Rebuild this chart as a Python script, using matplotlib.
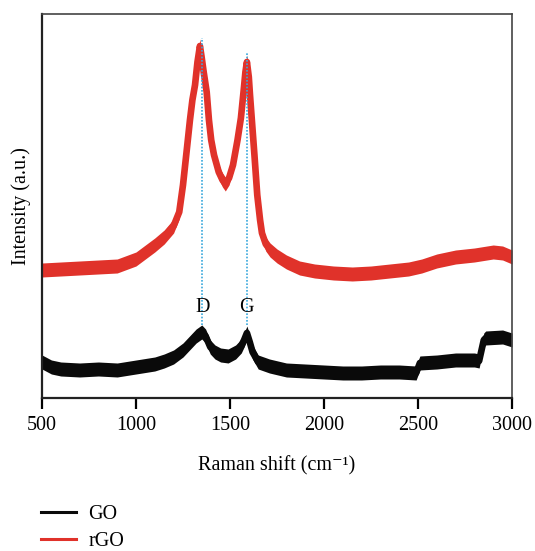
import matplotlib
matplotlib.use("Agg")
import matplotlib.pyplot as plt
from matplotlib.lines import Line2D
import numpy as np

plt.rcParams['font.family'] = ['Liberation Serif', 'DejaVu Serif']

# Raman shift (cm^-1) and intensity (a.u.)
rgo_shift = [500, 600, 700, 800, 900, 1000, 1050, 1100, 1150, 1200, 1230, 1250, 1270,
             1287, 1300, 1314, 1327, 1340, 1349, 1360, 1376, 1388, 1400, 1415, 1440,
             1460, 1475, 1495, 1516, 1540, 1558, 1574, 1582, 1590, 1600, 1606, 1617,
             1630, 1645, 1660, 1670, 1690, 1713, 1750, 1800, 1870, 1950, 2050, 2150,
             2250, 2350, 2450, 2520, 2600, 2700, 2800, 2900, 2950, 3000]
rgo_int = [128, 129, 130, 131, 132, 139, 146, 153, 161, 172, 186, 213, 248,
           278, 298, 313, 336, 352, 341, 326, 306, 278, 258, 243, 226,
           218, 214, 220, 233, 258, 280, 310, 326, 336, 321, 304, 276,
           243, 203, 178, 165, 154, 148, 142, 136, 130, 127, 125, 124,
           125, 127, 129, 132, 137, 141, 143, 146, 145, 141]

go_shift = [500, 550, 600, 700, 800, 900, 1000, 1100, 1150, 1200, 1250, 1290, 1320,
            1350, 1370, 1395, 1420, 1450, 1490, 1530, 1560, 1575, 1590, 1605, 1620,
            1650, 1710, 1800, 1900, 2000, 2100, 2200, 2300, 2400, 2490, 2500, 2510,
            2600, 2700, 2800, 2825, 2850, 2860, 2950, 3000]
go_int = [36, 31, 29, 28, 29, 28, 31, 34, 37, 41, 48, 56, 62,
          66, 62, 51, 46, 43, 42, 46, 52, 58, 65, 56, 46,
          36, 32, 28, 27, 26, 25, 25, 26, 26, 25, 30, 35,
          36, 38, 38, 37, 58, 60, 61, 58]

series_labels = ['GO', 'rGO']
peak_labels = ['D', 'G']
peak_pos = [1353, 1589]
peak_tops = [360, 345]
peak_bottom = 73
xticks = [500, 1000, 1500, 2000, 2500, 3000]

RED = '#e0322a'
BLACK = '#0a0a0a'
BLUE = '#3aa8dc'
BAND = 7

W, H = 535, 551
fig = plt.figure(figsize=(W / 100, H / 100), dpi=100)
ax = fig.add_axes([42 / W, 1 - 398 / H, (512 - 42) / W, (398 - 14) / H])

for xs, ys, col in [(go_shift, go_int, BLACK), (rgo_shift, rgo_int, RED)]:
    xs = np.asarray(xs, float)
    ys = np.asarray(ys, float)
    ax.fill_between(xs, ys - BAND, ys + BAND, color=col, lw=0, zorder=2)
    ax.plot(xs, ys, color=col, lw=4.8, solid_joinstyle='round', zorder=2)

for p, top, lab in zip(peak_pos, peak_tops, peak_labels):
    ax.plot([p, p], [peak_bottom, top], color=BLUE, lw=1.2,
            linestyle=(0, (1, 1)), zorder=4)
    ax.text(p, 91, lab, ha='center', va='center', fontsize=14.5, color='black', zorder=5)

ax.set_xlim(500, 3000)
ax.set_ylim(0, 384)
ax.set_xticks(xticks)
ax.set_yticks([])
ax.tick_params(axis='x', direction='out', length=8, width=1.6, pad=5, labelsize=14.5)
for s in ['left', 'bottom']:
    ax.spines[s].set_linewidth(1.6)
    ax.spines[s].set_color('#222222')
for s in ['top', 'right']:
    ax.spines[s].set_linewidth(1.2)
    ax.spines[s].set_color('#444444')

ax.set_xlabel('Raman shift (cm\u207b\u00b9)', fontsize=14.5, labelpad=15)
ax.set_ylabel('Intensity (a.u.)', fontsize=14.5, labelpad=8)

handles = [Line2D([], [], color=BLACK, lw=2.2), Line2D([], [], color=RED, lw=2.2)]
fig.legend(handles, series_labels, loc='upper left',
           bbox_to_anchor=(41 / W, 1 - 505 / H), frameon=False, fontsize=14.5,
           handlelength=1.75, handletextpad=0.6, labelspacing=0.38,
           borderpad=0, borderaxespad=0)

fig.savefig('out.png', dpi=100)
